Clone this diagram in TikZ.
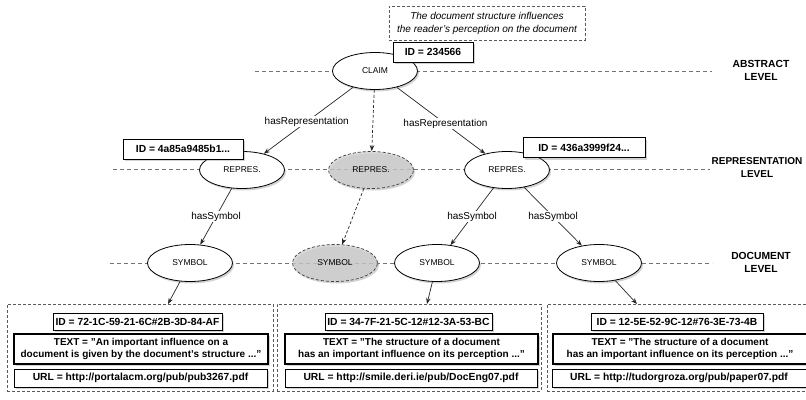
\documentclass[tikz,border=0pt]{standalone}
\usepackage{fontspec}
\setmainfont{Liberation Sans}
\usetikzlibrary{shapes.geometric,shadows,arrows.meta}
\begin{document}
\begin{tikzpicture}[x=1pt,y=-1pt,
  lvl/.style={draw=black!55, dash pattern=on 4pt off 3pt, line width=0.7pt},
  shad/.style={drop shadow={shadow xshift=1.5pt, shadow yshift=-2pt, opacity=0.35}},
  ent/.style={ellipse, draw=black, line width=0.8pt, fill=white, minimum width=85pt, minimum height=37pt, inner sep=0pt, font=\fontsize{8.5}{10}\selectfont, shad},
  ghost/.style={ellipse, draw=black!75, dash pattern=on 3pt off 2pt, line width=0.7pt, fill=black!20, fill opacity=0.75, text opacity=1, minimum width=85pt, minimum height=37pt, inner sep=0pt, font=\fontsize{8.5}{10}\selectfont, shad},
  idbox/.style={draw=black, line width=0.8pt, fill=white, inner sep=0pt, font=\fontsize{10.3}{12}\selectfont\bfseries, shad},
  txtbox/.style={draw=black, line width=2pt, fill=white, inner sep=0pt, align=center, font=\fontsize{10}{12}\selectfont\bfseries, shad},
  docbox/.style={draw=black!65, dash pattern=on 3pt off 2pt, line width=0.7pt, inner sep=0pt, minimum width=266pt, minimum height=87pt},
  note/.style={draw=black!65, dash pattern=on 3pt off 2pt, line width=0.7pt, fill=white, inner sep=0pt, align=center, minimum width=196pt, minimum height=34pt, font=\fontsize{10}{13}\selectfont\itshape},
  levellab/.style={align=center, font=\fontsize{10.3}{13}\selectfont\bfseries},
  conn/.style={draw=black!85, line width=0.7pt, -{Stealth[length=6pt,width=4.5pt]}},
  dconn/.style={conn, dash pattern=on 3pt off 2pt},
  lab/.style={fill=white, inner sep=1pt, font=\fontsize{10}{12}\selectfont}
]
\useasboundingbox (0,0) rectangle (806,399);
\clip (0,0) rectangle (806,399);

% level lines
\coordinate (a1) at (255,71);  \coordinate (a2) at (712,71);
\coordinate (r1) at (113,169); \coordinate (r2) at (710,169);
\coordinate (d1) at (110,263); \coordinate (d2) at (712,263);
\draw[lvl] (a1) -- (a2);
\draw[lvl] (r1) -- (r2);
\draw[lvl] (d1) -- (d2);

\node[levellab] (labA) at (761,70) {ABSTRACT\\LEVEL};
\node[levellab, font=\fontsize{10}{13}\selectfont\bfseries] (labR) at (757,168) {REPRESENTATION\\LEVEL};
\node[levellab] (labD) at (761,262) {DOCUMENT\\LEVEL};

% note
\node[note] (note) at (487,23) {The document structure influences\\the reader's perception on the document};

% entities
\node[ent] (claim) at (375,71) {CLAIM};
\node[ent] (rep1) at (242,170) {REPRES.};
\node[ghost] (grep) at (371,170) {REPRES.};
\node[ent] (rep2) at (507,170) {REPRES.};
\node[ent] (sym1) at (190,263) {SYMBOL};
\node[ghost] (gsym) at (335,263) {SYMBOL};
\node[ent] (sym3) at (437,263) {SYMBOL};
\node[ent] (sym4) at (599,263) {SYMBOL};

% id boxes
\node[idbox, minimum width=80pt, minimum height=20pt] (idc) at (433,52) {ID = 234566};
\node[idbox, minimum width=120pt, minimum height=20pt] (idr1) at (183,149) {ID = 4a85a9485b1...};
\node[idbox, minimum width=122pt, minimum height=20pt] (idr2) at (584,147.5) {ID = 436a3999f24...};

% connectors
\draw[conn] (claim) -- node[lab, pos=0.52] {hasRepresentation} (rep1);
\draw[conn] (claim) -- node[lab, pos=0.55] {hasRepresentation} (rep2);
\draw[dconn] (claim) -- (grep);
\draw[conn] (rep1) -- node[lab, pos=0.5] {hasSymbol} (sym1);
\draw[dconn] (grep) -- (gsym);
\draw[conn] (rep2) -- node[lab, pos=0.5] {hasSymbol} (sym3);
\draw[conn] (rep2) -- node[lab, pos=0.5] {hasSymbol} (sym4);

% document boxes
\node[docbox] (doc1) at (140,347.5) {};
\node[docbox, minimum width=264pt] (doc2) at (409,347.5) {};
\node[docbox] (doc3) at (680,347.5) {};

\node[idbox, minimum width=169pt, minimum height=17pt] (id1) at (137.5,321.5) {ID = 72-1C-59-21-6C\#2B-3D-84-AF};
\node[txtbox, minimum width=254pt, minimum height=30pt] (txt1) at (141,349) {TEXT = "An important influence on a\\document is given by the document's structure ..."};
\node[idbox, minimum width=253pt, minimum height=18pt] (url1) at (140.5,378) {URL = http://portalacm.org/pub/pub3267.pdf};

\node[idbox, minimum width=167pt, minimum height=17pt] (id2) at (408.5,321.5) {ID = 34-7F-21-5C-12\#12-3A-53-BC};
\node[txtbox, minimum width=253pt, minimum height=30pt] (txt2) at (411.5,349) {TEXT = "The structure of a document\\has an important influence on its perception ..."};
\node[idbox, minimum width=252pt, minimum height=18pt] (url2) at (411,378) {URL = http://smile.deri.ie/pub/DocEng07.pdf};

\node[idbox, minimum width=172pt, minimum height=17pt] (id3) at (677,321.5) {ID = 12-5E-52-9C-12\#76-3E-73-4B};
\node[txtbox, minimum width=254pt, minimum height=30pt] (txt3) at (680,349) {TEXT = "The structure of a document\\has an important influence on its perception ..."};
\node[idbox, minimum width=254pt, minimum height=18pt] (url3) at (679,378) {URL = http://tudorgroza.org/pub/paper07.pdf};

\coordinate (t1) at (168,304);
\coordinate (t2) at (427,304);
\coordinate (t3) at (637,304);
\draw[conn] (sym1) -- (t1);
\draw[conn] (sym3) -- (t2);
\draw[conn] (sym4) -- (t3);
\end{tikzpicture}
\end{document}
